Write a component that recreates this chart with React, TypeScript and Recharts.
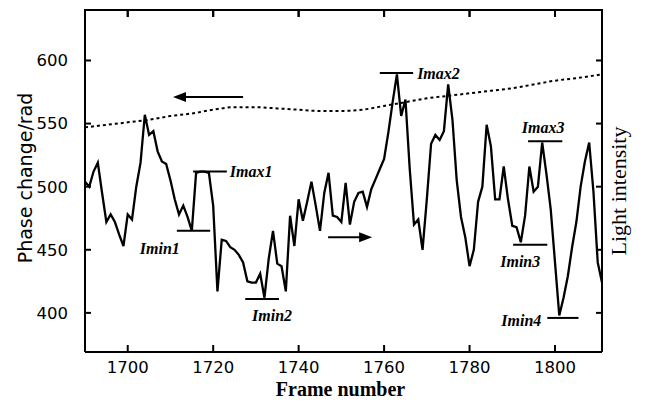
import React from 'react'
import { LineChart, Line, XAxis, YAxis, ReferenceLine } from 'recharts'

// frame numbers for the light intensity trace (solid line)
const frames = [
	1690, 1691, 1692, 1693, 1694, 1695, 1696, 1697, 1698, 1699,
	1700, 1701, 1702, 1703, 1704, 1705, 1706, 1707, 1708, 1709,
	1710, 1711, 1712, 1713, 1714, 1715, 1716, 1717, 1718, 1719,
	1720, 1721, 1722, 1723, 1724, 1725, 1726, 1727, 1728, 1729,
	1730, 1731, 1732, 1733, 1734, 1735, 1736, 1737, 1738, 1739,
	1740, 1741, 1742, 1743, 1744, 1745, 1746, 1747, 1748, 1749,
	1750, 1751, 1752, 1753, 1754, 1755, 1756, 1757, 1758, 1759,
	1760, 1761, 1762, 1763, 1764, 1765, 1766, 1767, 1768, 1769,
	1770, 1771, 1772, 1773, 1774, 1775, 1776, 1777, 1778, 1779,
	1780, 1781, 1782, 1783, 1784, 1785, 1786, 1787, 1788, 1789,
	1790, 1791, 1792, 1793, 1794, 1795, 1796, 1797, 1798, 1799,
	1800, 1801, 1802, 1803, 1804, 1805, 1806, 1807, 1808, 1809,
	1810, 1811,
]

const lightIntensity = [
	504, 500, 512, 519, 495, 472, 478, 472, 462, 453,
	478, 474, 500, 519, 557, 541, 544, 528, 520, 518,
	505, 490, 478, 485, 476, 465, 511, 512, 512, 511,
	485, 417, 458, 457, 452, 450, 446, 440, 425, 424,
	424, 431, 412, 443, 465, 439, 437, 417, 477, 453,
	490, 473, 488, 504, 485, 465, 495, 511, 477, 476,
	472, 503, 470, 488, 495, 496, 484, 498, 506, 514,
	522, 543, 567, 589, 556, 569, 514, 470, 474, 450,
	490, 534, 541, 537, 544, 581, 553, 505, 476, 460,
	437, 450, 488, 500, 549, 532, 490, 490, 516, 490,
	469, 468, 456, 477, 516, 496, 500, 535, 510, 482,
	440, 398, 412, 429, 452, 472, 500, 520, 535, 496,
	440, 424,
]

// phase change (dotted line)
const phaseFrames = [
	1690, 1695, 1700, 1705, 1710, 1715, 1720, 1725, 1730, 1735, 1740, 1745, 1750,
	1755, 1760, 1765, 1770, 1775, 1780, 1785, 1790, 1795, 1800, 1805, 1811,
]
const phaseChange = [
	547, 549, 551, 553, 556, 558, 561, 563, 563, 562, 561, 560, 560,
	561, 564, 567, 570, 572, 574, 576, 578, 581, 584, 586, 589,
]

const xDomain = [1690, 1811]
const yDomain = [369, 640]
const xTicks = [1700, 1720, 1740, 1760, 1780, 1800]
const yTicks = [400, 450, 500, 550, 600]

// Imax / Imin levels marked on the trace
const markNames = ['Imax1', 'Imin1', 'Imax2', 'Imin2', 'Imax3', 'Imin3', 'Imin4']
const markFrom = [1715.3, 1711.5, 1759, 1727.5, 1793.7, 1790.2, 1798.2]
const markTo = [1723.2, 1719.3, 1766.8, 1735.4, 1801.7, 1798.2, 1805.5]
const markLevel = [512, 465, 590, 411, 536, 454, 396]

const lightRows = frames.map((f, i) => ({ frame: f, light: lightIntensity[i] }))
const phaseRows = phaseFrames.map((f, i) => ({ frame: f, phase: phaseChange[i] }))

// where each mark's text sits relative to its bar
const labelPlace: Record<string, { anchor: 'start' | 'middle' | 'end'; from: 'x1' | 'x2' | 'mid'; dx: number; dy: number }> = {
	Imax1: { anchor: 'start', from: 'x2', dx: 3, dy: 0 },
	Imin1: { anchor: 'middle', from: 'x1', dx: -17, dy: 18 },
	Imax2: { anchor: 'start', from: 'x2', dx: 4, dy: 0 },
	Imin2: { anchor: 'middle', from: 'mid', dx: 10, dy: 17 },
	Imax3: { anchor: 'middle', from: 'mid', dx: -2, dy: -14 },
	Imin3: { anchor: 'middle', from: 'mid', dx: -10, dy: 17 },
	Imin4: { anchor: 'end', from: 'x1', dx: -6, dy: 3 },
}

const serif = '"Liberation Serif", "Times New Roman", serif'
const sans = '"DejaVu Sans", sans-serif'

const markShape = (name: string) => (p: any) => {
	const pl = labelPlace[name]
	const x1 = Math.min(p.x1, p.x2)
	const x2 = Math.max(p.x1, p.x2)
	const bx = pl.from === 'x1' ? x1 : pl.from === 'x2' ? x2 : (x1 + x2) / 2
	return (
		<g>
			<line x1={x1} y1={p.y1} x2={x2} y2={p.y2} stroke="#000" strokeWidth={2} />
			<text
				x={bx + pl.dx}
				y={p.y1 + pl.dy}
				textAnchor={pl.anchor}
				dominantBaseline="central"
				fontFamily={serif}
				fontStyle="italic"
				fontWeight="bold"
				fontSize={16}
				fill="#000"
			>
				{name}
			</text>
		</g>
	)
}

// arrow pointing from first to second segment point
const arrowShape = (p: any) => {
	const dir = p.x2 > p.x1 ? 1 : -1
	const hx = p.x2
	const hy = p.y2
	return (
		<g>
			<line x1={p.x1} y1={p.y1} x2={hx - dir * 8} y2={hy} stroke="#000" strokeWidth={2} />
			<polygon points={`${hx},${hy} ${hx - dir * 13},${hy - 5} ${hx - dir * 13},${hy + 5}`} fill="#000" />
		</g>
	)
}

// top frame edge: full-width line with a short inward tick at every x tick
const topFrame = (p: any) => {
	const left = Math.min(p.x1, p.x2)
	const right = Math.max(p.x1, p.x2)
	const span = xDomain[1] - xDomain[0]
	return (
		<g>
			<line x1={left - 1} y1={p.y1} x2={right + 1} y2={p.y1} stroke="#000" strokeWidth={2} />
			{xTicks.map((t) => {
				const tx = left + ((t - xDomain[0]) / span) * (right - left)
				return <line key={t} x1={tx} y1={p.y1} x2={tx} y2={p.y1 + 7} stroke="#000" strokeWidth={2} />
			})}
		</g>
	)
}

const leftTitle = (props: any) => {
	const vb = props.viewBox || { x: 0, y: 0, width: 0, height: 0 }
	const x = vb.x + 17
	const y = vb.y + vb.height / 2 - 3
	return (
		<text x={x} y={y} transform={`rotate(-90 ${x} ${y})`} textAnchor="middle" dominantBaseline="central"
			fontFamily={sans} fontSize={19} fill="#000">
			Phase change/rad
		</text>
	)
}

const rightTitle = (props: any) => {
	const vb = props.viewBox || { x: 0, y: 0, width: 0, height: 0 }
	const x = vb.x + 16
	const y = vb.y + vb.height / 2 + 10
	return (
		<text x={x} y={y} transform={`rotate(-90 ${x} ${y})`} textAnchor="middle" dominantBaseline="central"
			fontFamily={serif} fontSize={22} fill="#000">
			Light intensity
		</text>
	)
}

const bottomTitle = (props: any) => {
	const vb = props.viewBox || { x: 0, y: 0, width: 0, height: 0 }
	return (
		<text x={vb.x + vb.width / 2 - 3} y={vb.y + 37} textAnchor="middle" dominantBaseline="central"
			fontFamily={serif} fontWeight="bold" fontSize={20} fill="#000">
			Frame number
		</text>
	)
}

// tick marks only, no tick text (top and right frame sides)
const noTickText = () => <g />

const axisLine = { stroke: '#000', strokeWidth: 2 }
const tickLine = { stroke: '#000', strokeWidth: 2 }
const tickFont = { fontFamily: sans, fontSize: 16.5, fill: '#000' }

export default function App() {
	// chart svg starts at the page top so the plot frame sits well inside it
	return (
		<div style={{ marginTop: -8 }}>
			<LineChart width={630} height={402} margin={{ top: 2, right: 0, bottom: 0, left: 0 }}>
				<XAxis xAxisId="b" type="number" dataKey="frame" domain={xDomain} ticks={xTicks}
					allowDataOverflow height={50} axisLine={axisLine} tickLine={tickLine} tickSize={-7}
					tickMargin={16} tick={tickFont} label={{ content: bottomTitle }} />
				<XAxis xAxisId="t" orientation="top" type="number" dataKey="frame" domain={xDomain}
					ticks={xTicks} allowDataOverflow height={8} axisLine={axisLine} tickLine={tickLine}
					tickSize={-7} tick={noTickText} />
				<YAxis yAxisId="l" type="number" domain={yDomain} ticks={yTicks} allowDataOverflow
					width={77} axisLine={axisLine} tickLine={tickLine} tickSize={-6} tickMargin={23}
					tick={tickFont} label={{ content: leftTitle }} />
				<YAxis yAxisId="r" orientation="right" type="number" domain={yDomain} ticks={yTicks}
					allowDataOverflow width={36} axisLine={axisLine} tickLine={tickLine} tickSize={-6}
					tick={noTickText} label={{ content: rightTitle }} />
				<ReferenceLine xAxisId="b" yAxisId="l" y={yDomain[1]} ifOverflow="visible" shape={topFrame} />
				<Line xAxisId="t" yAxisId="l" data={phaseRows} dataKey="phase" type="monotone" stroke="#000"
					strokeWidth={2} strokeDasharray="3 3" dot={false} isAnimationActive={false} />
				<Line xAxisId="b" yAxisId="r" data={lightRows} dataKey="light" type="linear" stroke="#000"
					strokeWidth={2.3} dot={false} isAnimationActive={false} />
				{markNames.map((n, i) => (
					<ReferenceLine key={n} xAxisId="b" yAxisId="l"
						segment={[{ x: markFrom[i], y: markLevel[i] }, { x: markTo[i], y: markLevel[i] }]}
						shape={markShape(n)} />
				))}
				<ReferenceLine xAxisId="b" yAxisId="l" segment={[{ x: 1727, y: 571 }, { x: 1710.6, y: 571 }]}
					shape={arrowShape} />
				<ReferenceLine xAxisId="b" yAxisId="l" segment={[{ x: 1746.9, y: 460 }, { x: 1757.2, y: 460 }]}
					shape={arrowShape} />
			</LineChart>
		</div>
	)
}
